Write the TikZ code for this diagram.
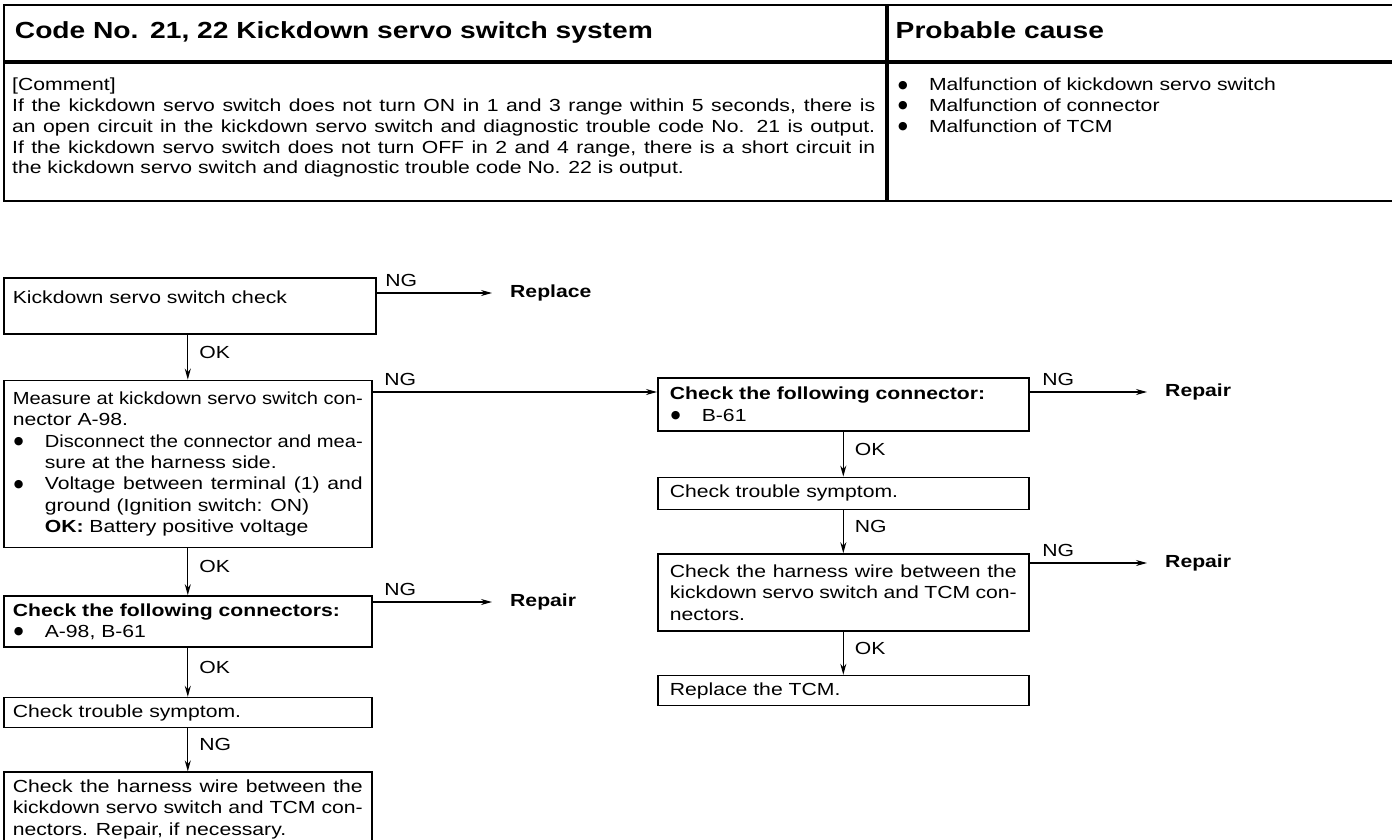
\documentclass[tikz,border=0pt]{standalone}
\usepackage{fontspec}
\setmainfont{Liberation Sans}[FakeStretch=1.21]
\newfontfamily\dotfont{DejaVu Sans}
\usepackage{graphicx}
\usepackage{tikz}
\usetikzlibrary{positioning, arrows.meta}
\setlength{\parindent}{0pt}
\newcommand\bodyfont{\fontsize{17.5pt}{21.3pt}\selectfont}
\newcommand\tblfont{\fontsize{17.5pt}{20.8pt}\selectfont}
\newcommand\headfont{\fontsize{23.3pt}{26pt}\selectfont\bfseries}
\newcommand\blt{\makebox[32pt][l]{\hspace{1pt}\raisebox{2.6pt}{\dotfont\fontsize{11pt}{11pt}\selectfont ●}}}
\newcommand\squeeze[2]{\resizebox{#1}{\height}{#2}}
\tikzset{
  % --- table cells ---
  cellbox/.style={draw, line width=1.8pt, anchor=north west, inner sep=0pt},
  headcell/.style={cellbox, font=\headfont, align=left, text height=17pt, text depth=5pt},
  celltext/.style={anchor=north west, inner sep=0pt, font=\tblfont},
  % --- flow chart ---
  flowbox/.style={draw, line width=1.6pt, anchor=north west, inner xsep=9pt,
    inner ysep=3pt, align=justify, font=\bodyfont, text width=350pt, minimum width=368pt},
  rightbox/.style={flowbox, inner xsep=12pt, text width=347pt, minimum width=371pt},
  outcome/.style={anchor=west, inner xsep=18pt, inner ysep=0pt, font=\bodyfont\bfseries},
  lbl/.style={inner sep=0pt, font=\bodyfont},
  flow/.style={line width=1.3pt, -{Stealth[length=11pt, width=6pt]}},
}

\begin{document}
\begin{tikzpicture}[x=1pt, y=-1pt]
  \useasboundingbox (0,0) rectangle (1392,840);

  % ---- Code table ----
  \node[headcell, minimum width=882pt, minimum height=56pt, inner xsep=11pt, text width=860pt]
    (hcode) at (3,4) {Code No. 21, 22 Kickdown servo switch system};
  \node[headcell, minimum width=505pt, minimum height=56pt, inner xsep=8pt, text width=489pt]
    (hcause) at (hcode.north east) {Probable cause};
  \node[cellbox, minimum width=882pt, minimum height=138pt] (bcode) at (hcode.south west) {};
  \node[cellbox, minimum width=505pt, minimum height=138pt] (bcause) at (hcause.south west) {};

  \node[celltext, text width=863pt, align=justify] (comment)
    at ([xshift=9pt, yshift=-16pt]bcode.north west) {
    [Comment]\\
    If the kickdown servo switch does not turn ON in 1 and 3 range within 5 seconds, there is\linebreak
    an open circuit in the kickdown servo switch and diagnostic trouble code No. 21 is output.\linebreak
    If the kickdown servo switch does not turn OFF in 2 and 4 range, there is a short circuit in\linebreak
    the kickdown servo switch and diagnostic trouble code No. 22 is output.
  };
  \node[celltext, text width=470pt, align=left] (causes)
    at ([xshift=10pt, yshift=-16pt]bcause.north west) {
    \blt Malfunction of kickdown servo switch\\
    \blt Malfunction of connector\\
    \blt Malfunction of TCM
  };

  % ---- Left column ----
  \node[flowbox, text width=354pt, minimum width=372pt, minimum height=56pt,
    text height=14pt, text depth=19.5pt] (L1) at (3,277) {Kickdown servo switch check};
  \node[flowbox, minimum height=167pt, below=45pt of L1.south west, anchor=north west] (L2) {
    \squeeze{350pt}{Measure at kickdown servo switch con-}\linebreak
    nector A-98.\\
    \blt\squeeze{318pt}{Disconnect the connector and mea-}\linebreak
    \hspace*{32pt}sure at the harness side.\\
    \blt Voltage between terminal (1) and\linebreak
    \hspace*{32pt}ground (Ignition switch: ON)\\
    \hspace*{32pt}\textbf{OK:} Battery positive voltage
  };
  \node[flowbox, minimum height=51pt, below=47pt of L2.south west, anchor=north west] (L3) {
    \textbf{Check the following connectors:}\\
    \blt A-98, B-61
  };
  \node[flowbox, minimum height=30pt, below=49pt of L3.south west, anchor=north west] (L4)
    {Check trouble symptom.};
  \node[flowbox, minimum height=74pt, below=43pt of L4.south west, anchor=north west] (L5) {
    Check the harness wire between the\linebreak
    kickdown servo switch and TCM con-\linebreak
    nectors. Repair, if necessary.
  };

  % ---- Right column ----
  \node[rightbox, minimum height=53pt] (R1) at (657,377) {
    \textbf{Check the following connector:}\\
    \blt B-61
  };
  \node[rightbox, minimum height=32pt, below=45pt of R1.south west, anchor=north west] (R2)
    {Check trouble symptom.};
  \node[rightbox, minimum height=77pt, below=43pt of R2.south west, anchor=north west] (R3) {
    Check the harness wire between the\linebreak
    kickdown servo switch and TCM con-\linebreak
    nectors.
  };
  \node[rightbox, minimum height=30pt, below=43pt of R3.south west, anchor=north west] (R4)
    {Replace the TCM.};

  % ---- Outcomes ----
  \node[outcome] (rep1) at (492,293) {Replace};
  \node[outcome] (rep2) at (492,602) {Repair};
  \node[outcome] (rep3) at (1147,392) {Repair};
  \node[outcome] (rep4) at (1147,563) {Repair};
  \coordinate (r1in) at ([yshift=-15pt]R1.north west);

  % ---- OK / NG down the columns ----
  \foreach \a/\b/\t in {L1/L2/OK, L2/L3/OK, L3/L4/OK, L4/L5/NG, R1/R2/OK, R2/R3/NG, R3/R4/OK}
    \draw[flow] (\a.south -| \b.north) -- (\b.north)
      node[lbl, midway, right=11pt, yshift=5pt] {\t};

  % ---- NG branches ----
  \draw[flow] (L1.east |- rep1.west) -- (rep1.west)
    node[lbl, pos=0, anchor=south west, xshift=8pt, yshift=6pt] {NG};
  \draw[flow] (L2.east |- r1in) -- (r1in)
    node[lbl, pos=0, anchor=south west, xshift=11pt, yshift=6pt] {NG};
  \draw[flow] (L3.east |- rep2.west) -- (rep2.west)
    node[lbl, pos=0, anchor=south west, xshift=11pt, yshift=6pt] {NG};
  \draw[flow] (R1.east |- rep3.west) -- (rep3.west)
    node[lbl, pos=0, anchor=south west, xshift=12pt, yshift=6pt] {NG};
  \draw[flow] (R3.east |- rep4.west) -- (rep4.west)
    node[lbl, pos=0, anchor=south west, xshift=12pt, yshift=6pt] {NG};
\end{tikzpicture}
\end{document}
